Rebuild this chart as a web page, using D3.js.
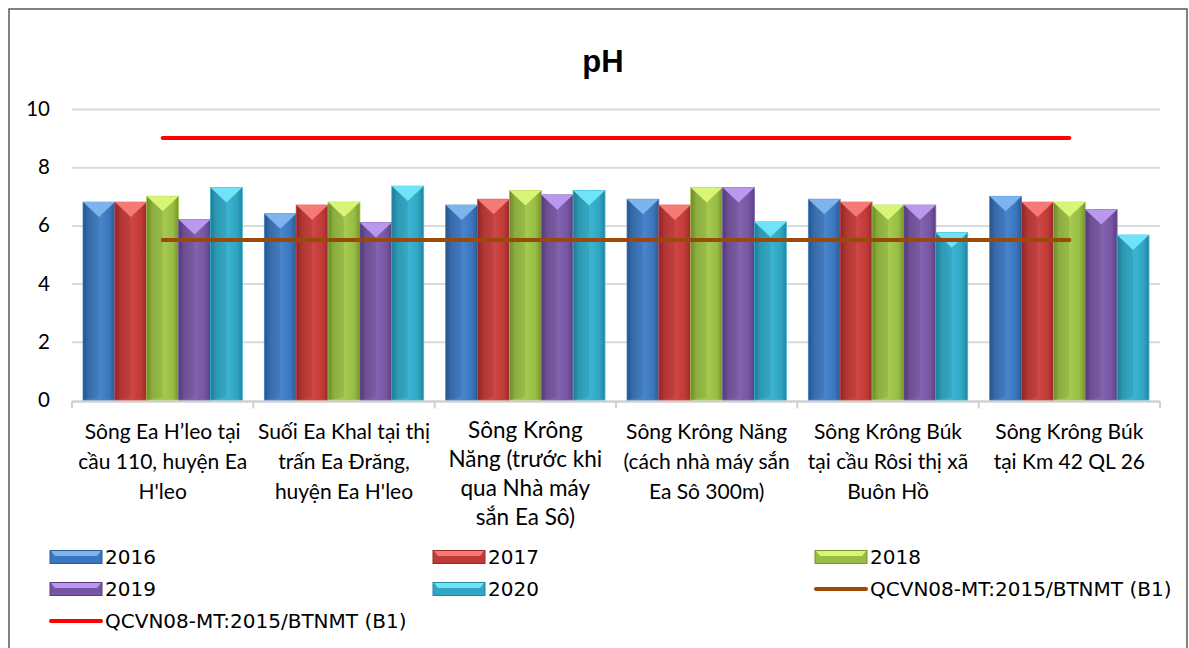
<!DOCTYPE html>
<html><head><meta charset="utf-8">
<script src="https://cdn.jsdelivr.net/npm/d3@7"></script>
<style>
html,body{margin:0;padding:0;background:#fff;}
svg{display:block;}
</style></head>
<body>
<svg id="chart" width="1189" height="648"></svg>
<script>
// ---- data ----
const categories = ["c1","c2","c3","c4","c5","c6"];
const categoryLabels = [
  ["Sông Ea H’leo tại","cầu 110, huyện Ea","H'leo"],
  ["Suối Ea Khal tại thị","trấn Ea Đrăng,","huyện Ea H'leo"],
  ["Sông Krông","Năng (trước khi","qua Nhà máy","sắn Ea Sô)"],
  ["Sông Krông Năng","(cách nhà máy sắn","Ea Sô 300m)"],
  ["Sông Krông Búk","tại cầu Rôsi thị xã","Buôn Hồ"],
  ["Sông Krông Búk","tại Km 42 QL 26"]
];
const years = ["2016","2017","2018","2019","2020"];
const v2016 = [6.8, 6.4, 6.7, 6.9, 6.9, 7.0];
const v2017 = [6.8, 6.7, 6.9, 6.7, 6.8, 6.8];
const v2018 = [7.0, 6.8, 7.2, 7.3, 6.7, 6.8];
const v2019 = [6.2, 6.1, 7.05, 7.3, 6.7, 6.55];
const v2020 = [7.3, 7.35, 7.2, 6.12, 5.75, 5.67];
const qcvnLow = [5.5, 5.5, 5.5, 5.5, 5.5, 5.5];
const qcvnHigh = [9, 9, 9, 9, 9, 9];
const yTicks = [0, 2, 4, 6, 8, 10];
const title = "pH";
const qcvnName = "QCVN08-MT:2015/BTNMT (B1)";

const seriesValues = [v2016, v2017, v2018, v2019, v2020];
const palette = [
  {main:"#3b76bd", dark:"#2c5a93", light:"#4a86cf", top:"#7db4ee"},
  {main:"#c23a38", dark:"#962b2a", light:"#d04846", top:"#f57a76"},
  {main:"#98bd44", dark:"#76942f", light:"#a6cb50", top:"#d9f576"},
  {main:"#7656a2", dark:"#5a3f80", light:"#8464b1", top:"#bb98ee"},
  {main:"#30a6c4", dark:"#23859f", light:"#3cb5d3", top:"#6fe3f7"}
];

const svg = d3.select("#chart");
const pLeft = 72, pRight = 1160, pTop = 109, pBottom = 400;

// border
svg.append("rect").attr("x",9).attr("y",9).attr("width",1178).attr("height",660)
  .attr("fill","#fff").attr("stroke","#595959").attr("stroke-width",1.5);

// title
svg.append("text").attr("x",603).attr("y",72).attr("text-anchor","middle")
  .attr("font-family","Liberation Sans, Arial, sans-serif").attr("font-weight","bold")
  .attr("font-size",31).attr("fill","#000").text(title);

const y = d3.scaleLinear().domain([0,10]).range([pBottom, pTop]);
const x0 = d3.scaleBand().domain(categories).range([pLeft, pRight]).paddingInner(0).paddingOuter(0);
const bw = x0.bandwidth();
const x1 = d3.scaleBand().domain(years).range([11, bw - 11]).padding(0);

// gridlines
const yAxis = d3.axisLeft(y).tickValues(yTicks).tickSize(-(pRight-pLeft)).tickFormat(d3.format("d"));
const gy = svg.append("g").attr("transform",`translate(${pLeft},0)`).call(yAxis);
gy.select(".domain").remove();
gy.selectAll(".tick line").attr("stroke","#d9d9d9").attr("stroke-width",2)
  .attr("opacity", d => d === 0 ? 0 : 1);
gy.selectAll(".tick text").attr("x",-22).attr("font-family","Lato, 'Open Sans', sans-serif")
  .attr("font-size",20.5).attr("fill","#000");

// x axis
const xAxis = d3.axisBottom(x0).tickSize(0).tickFormat("");
const gx = svg.append("g").attr("transform",`translate(0,${pBottom+1.5})`).call(xAxis);
gx.select(".domain").attr("stroke","#d0d0d0").attr("stroke-width",2.5)
  .attr("d",`M${pLeft},0H${pRight}`);
gx.selectAll(".bnd").data(d3.range(categories.length+1)).join("line")
  .attr("x1", i => pLeft + i*bw).attr("x2", i => pLeft + i*bw)
  .attr("y1",0).attr("y2",7).attr("stroke","#d0d0d0").attr("stroke-width",2);

// gradients
const defs = svg.append("defs");
palette.forEach((p,i)=>{
  const g = defs.append("linearGradient").attr("id","g"+i).attr("x1","0").attr("x2","1").attr("y1","0").attr("y2","0");
  g.append("stop").attr("offset","0").attr("stop-color",p.dark);
  g.append("stop").attr("offset","0.18").attr("stop-color",p.main);
  g.append("stop").attr("offset","0.5").attr("stop-color",p.light);
  g.append("stop").attr("offset","0.82").attr("stop-color",p.main);
  g.append("stop").attr("offset","1").attr("stop-color",p.dark);
});

// bars
const groups = svg.append("g").selectAll("g").data(categories).join("g")
  .attr("transform", c => `translate(${x0(c)},0)`);
groups.each(function(c, ci){
  const g = d3.select(this);
  years.forEach((yr, si) => {
    const v = seriesValues[si][ci];
    const bx = x1(yr), w = x1.bandwidth(), ty = y(v), h = pBottom - ty;
    const p = palette[si];
    g.append("rect").attr("x",bx).attr("y",ty).attr("width",w).attr("height",h)
      .attr("fill",`url(#g${si})`).attr("stroke",p.light).attr("stroke-width",0.8);
    g.append("path").attr("d",`M${bx},${ty}L${bx+w},${ty}L${bx+w/2},${ty+15}Z`).attr("fill",p.top);
    g.append("path").attr("d",`M${bx},${ty}L${bx+w/2},${ty+15}L${bx+w/2},${pBottom-3}L${bx},${pBottom}Z`)
      .attr("fill","#000").attr("opacity",0.08);
  });
});

// lines
const lineGen = d3.line().x((d,i)=> x0(categories[i]) + bw/2).y(d => y(d));
svg.append("path").datum(qcvnLow).attr("d",lineGen).attr("fill","none")
  .attr("stroke","#994a0a").attr("stroke-width",4).attr("stroke-linecap","round");
svg.append("path").datum(qcvnHigh).attr("d",lineGen).attr("fill","none")
  .attr("stroke","#ff0000").attr("stroke-width",4).attr("stroke-linecap","round");

// category labels
categoryLabels.forEach((lines, ci) => {
  const cx = x0(categories[ci]) + bw/2;
  const big = ci === 2;
  const t = svg.append("text").attr("text-anchor","middle")
    .attr("font-family","Lato, 'Open Sans', sans-serif")
    .attr("font-size", big ? 22.5 : 21).attr("fill","#000");
  lines.forEach((ln, li) => {
    t.append("tspan").attr("x",cx).attr("y", (big ? 438 : 439) + li*(big ? 29 : 30)).text(ln);
  });
});

// legend
const legendItems = [
  {label:"2016", type:"bar", s:0, col:0, row:0},
  {label:"2017", type:"bar", s:1, col:1, row:0},
  {label:"2018", type:"bar", s:2, col:2, row:0},
  {label:"2019", type:"bar", s:3, col:0, row:1},
  {label:"2020", type:"bar", s:4, col:1, row:1},
  {label:qcvnName, type:"line", color:"#994a0a", col:2, row:1},
  {label:qcvnName, type:"line", color:"#ff0000", col:0, row:2}
];
const colX = [50, 433, 815], rowY = [557, 589, 621];
const lg = svg.append("g");
legendItems.forEach(it => {
  const lx = colX[it.col], ly = rowY[it.row];
  if (it.type === "bar") {
    const p = palette[it.s];
    lg.append("rect").attr("x",lx).attr("y",ly-6.5).attr("width",52).attr("height",13)
      .attr("fill",p.main).attr("stroke",p.dark).attr("stroke-width",1);
    lg.append("path").attr("d",`M${lx+1},${ly-6}L${lx+51},${ly-6}L${lx+47},${ly-1}L${lx+5},${ly-1}Z`).attr("fill",p.top);
  } else {
    lg.append("line").attr("x1",lx+1).attr("x2",lx+51).attr("y1",ly).attr("y2",ly)
      .attr("stroke",it.color).attr("stroke-width",4).attr("stroke-linecap","round");
  }
  lg.append("text").attr("x",lx+55).attr("y",ly+7)
    .attr("font-family","'DejaVu Sans', sans-serif").attr("font-size",20)
    .attr("fill","#000").text(it.label);
});
</script>
</body></html>
